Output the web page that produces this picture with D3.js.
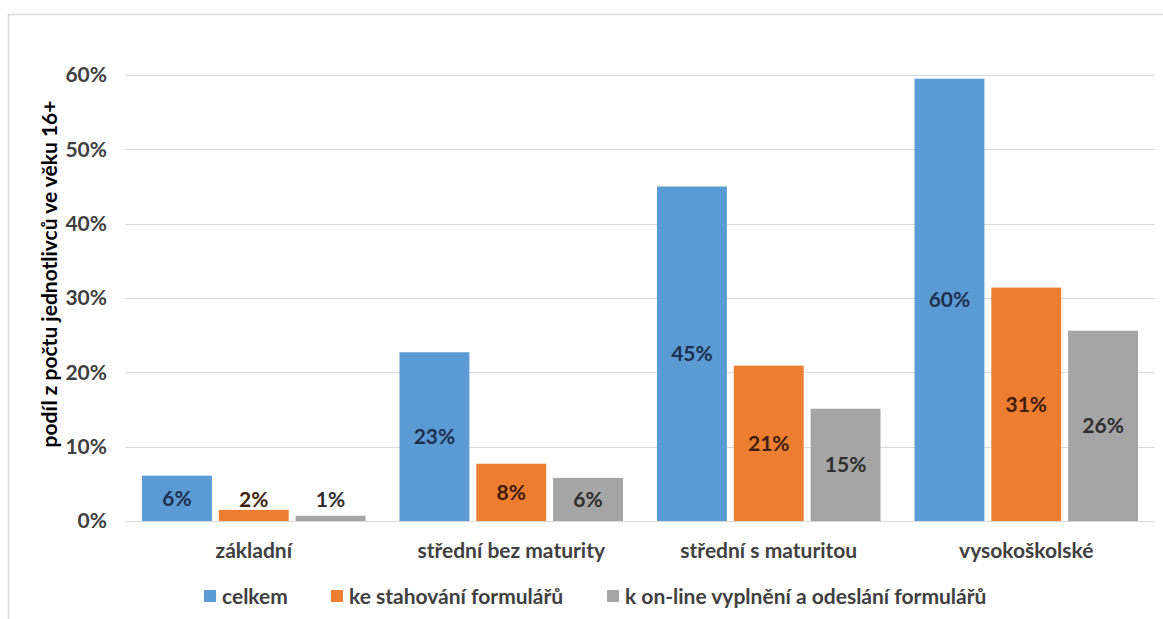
<!DOCTYPE html>
<html>
<head>
<meta charset="utf-8">
<script src="https://cdnjs.cloudflare.com/ajax/libs/d3/7.8.5/d3.min.js"></script>
<style>
  body { margin: 0; background: #fff; }
  svg { display: block; font-family: Lato, "Open Sans", sans-serif; }
</style>
</head>
<body>
<svg></svg>
<script>
// categories and series
var categories = ["základní", "střední bez maturity", "střední s maturitou", "vysokoškolské"];
var seriesNames = ["celkem", "ke stahování formulářů", "k on-line vyplnění a odeslání formulářů"];
var celkem = [6.1, 22.7, 45.0, 59.5];
var stahovani = [1.5, 7.7, 20.9, 31.4];
var online = [0.7, 5.8, 15.1, 25.6];
var labels = [
  ["6%", "23%", "45%", "60%"],
  ["2%", "8%", "21%", "31%"],
  ["1%", "6%", "15%", "26%"]
];
var yTicks = [0, 10, 20, 30, 40, 50, 60];
var yTitle = "podíl z počtu jednotlivců ve věku 16+";

var colors = ["#5b9bd5", "#ed7d31", "#a5a5a5"];
var labelColors = ["#1f2f4d", "#3f1e0c", "#2e2e2e"];

var W = 1163, H = 619;
var fs = "21px";

var svg = d3.select("svg").attr("width", W).attr("height", H);

// chart frame
svg.append("line").attr("x1", 8).attr("x2", W).attr("y1", 14.5).attr("y2", 14.5)
  .attr("stroke", "#d9d9d9").attr("stroke-width", 1.5);
svg.append("line").attr("x1", 8.5).attr("x2", 8.5).attr("y1", 14).attr("y2", H)
  .attr("stroke", "#d9d9d9").attr("stroke-width", 1.5);

var x0 = d3.scaleBand()
  .domain(categories)
  .range([125, 1155])
  .paddingInner(0.132)
  .paddingOuter(0.066);

var x1 = d3.scaleBand()
  .domain(d3.range(3))
  .range([0, x0.bandwidth()])
  .paddingInner(0.09);

var y = d3.scaleLinear()
  .domain([0, 60])
  .range([521, 75]);

// gridlines
svg.append("g").selectAll("line").data(yTicks).enter().append("line")
  .attr("x1", 125).attr("x2", 1155)
  .attr("y1", function(d){ return Math.round(y(d)) + 0.5; })
  .attr("y2", function(d){ return Math.round(y(d)) + 0.5; })
  .attr("stroke", "#d9d9d9").attr("stroke-width", 1);

// y axis
var leftAxis = d3.axisLeft(y).tickValues(yTicks).tickSize(0).tickPadding(0)
  .tickFormat(function(d){ return d + "%"; });
var ya = svg.append("g").attr("transform", "translate(107,0)").call(leftAxis);
ya.select(".domain").remove();
ya.selectAll("text")
  .attr("fill", "#404040")
  .style("font-size", fs)
  .style("font-weight", "bold")
  .style("font-family", "Lato, sans-serif");

svg.append("text")
  .attr("text-anchor", "middle")
  .attr("transform", "translate(57, 274)rotate(-90)")
  .attr("fill", "#000")
  .style("font-size", fs)
  .style("font-weight", "bold")
  .text(yTitle);

// x axis labels
var bottomAxis = d3.axisBottom(x0).tickSize(0).tickPadding(0);
var xa = svg.append("g").attr("transform", "translate(0,551)").call(bottomAxis);
xa.select(".domain").remove();
xa.selectAll("text")
  .attr("fill", "#404040")
  .attr("dy", "0.35em")
  .style("font-size", fs)
  .style("font-weight", "bold")
  .style("font-family", "Lato, sans-serif");

// bars
var series = [celkem, stahovani, online];
var rows = [];
series.forEach(function(vals, s) {
  vals.forEach(function(v, i) {
    rows.push({s: s, cat: categories[i], v: v, label: labels[s][i]});
  });
});

svg.append("g").selectAll("rect").data(rows).enter().append("rect")
  .attr("x", function(d){ return x0(d.cat) + x1(d.s); })
  .attr("y", function(d){ return y(d.v); })
  .attr("width", x1.bandwidth())
  .attr("height", function(d){ return y(0) - y(d.v); })
  .attr("fill", function(d){ return colors[d.s]; });

svg.append("g").selectAll("text").data(rows).enter().append("text")
  .attr("x", function(d){ return x0(d.cat) + x1(d.s) + x1.bandwidth() / 2; })
  .attr("y", function(d){ return Math.min((y(d.v) + y(0)) / 2, y(0) - 21); })
  .attr("dy", "0.35em")
  .attr("text-anchor", "middle")
  .attr("fill", function(d){ return labelColors[d.s]; })
  .style("font-size", fs)
  .style("font-weight", "bold")
  .text(function(d){ return d.label; });

// legend
var legendX = [204, 331, 607];
var lg = svg.append("g").selectAll("g").data(seriesNames).enter().append("g")
  .attr("transform", function(d, i){ return "translate(" + legendX[i] + ",590)"; });
lg.append("rect").attr("width", 12).attr("height", 12)
  .attr("fill", function(d, i){ return colors[i]; });
lg.append("text").attr("x", 18).attr("y", 7).attr("dy", "0.35em")
  .attr("fill", "#404040")
  .style("font-size", fs)
  .style("font-weight", "bold")
  .text(function(d){ return d; });
</script>
</body>
</html>
